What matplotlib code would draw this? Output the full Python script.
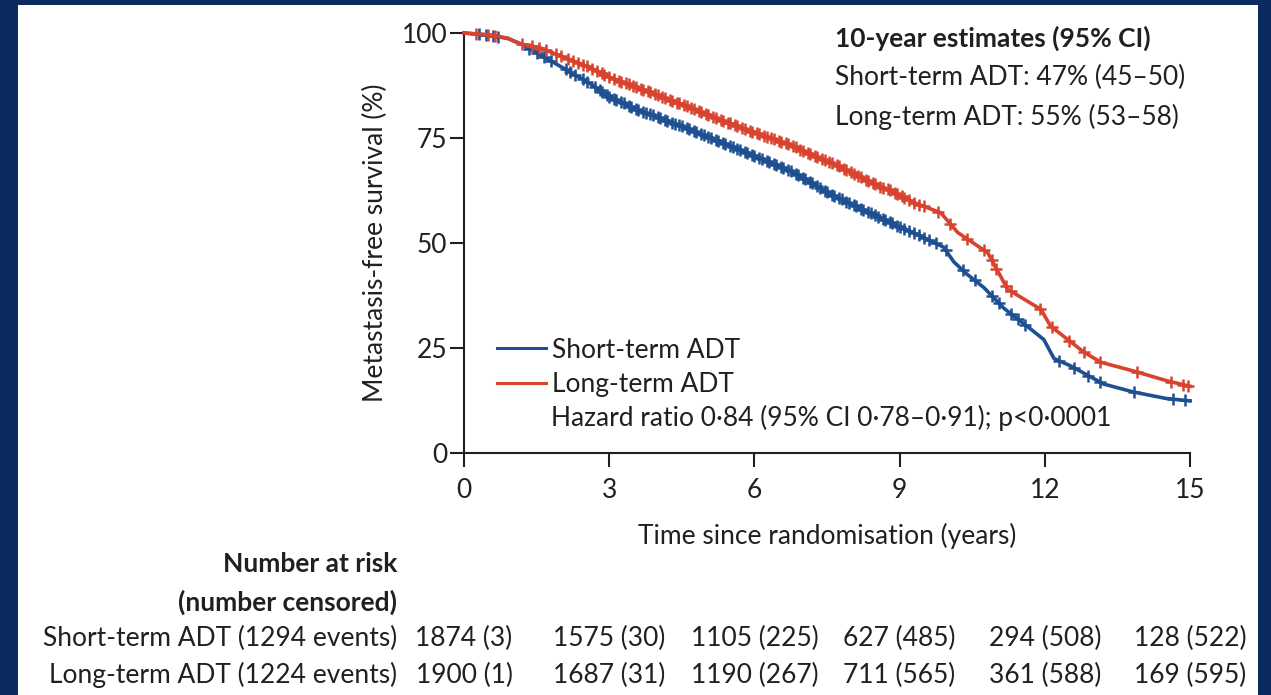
# Metastasis-free survival, short-term vs long-term ADT, with number-at-risk table
import numpy as np
import matplotlib.pyplot as plt
from matplotlib.patches import Rectangle
from matplotlib.lines import Line2D
from matplotlib.transforms import blended_transform_factory

plt.rcParams['font.family'] = ['Lato', 'DejaVu Sans']

# Kaplan-Meier curves (years, % metastasis-free)
t_short = [0, 0.5, 0.9, 1.2, 1.57, 2.0, 2.6, 3.0, 3.64, 4.5, 5.71, 6.7, 7.6, 8.6,
           9.02, 9.37, 9.91, 10.12, 10.4, 10.74, 11.15, 11.71, 11.98, 12.19, 12.54,
           13.22, 13.84, 14.5, 15.0]
s_short = [100, 99.5, 98.7, 97.3, 94.8, 92.0, 88.0, 84.8, 81.5, 77.8, 72.2, 67.5, 61.5, 56.0,
           53.8, 52.0, 49.0, 45.5, 42.5, 39.4, 34.5, 29.5, 27.0, 22.5, 20.7,
           16.4, 14.5, 13.0, 12.4]

t_long = [0, 0.5, 0.9, 1.16, 1.57, 2.0, 2.6, 3.0, 3.64, 4.5, 5.71, 6.7, 7.7, 8.6,
          8.81, 9.3, 9.85, 10.2, 10.82, 11.09, 11.23, 11.92, 12.12, 12.81, 13.16,
          13.84, 14.55, 15.0]
s_long = [100, 99.6, 98.8, 97.4, 96.5, 94.5, 91.8, 89.5, 86.8, 83.0, 77.5, 73.5, 68.5, 63.4,
          62.5, 59.6, 57.2, 52.5, 47.7, 42.0, 39.0, 34.2, 30.2, 24.0, 21.6,
          19.5, 17.1, 15.9]

# censoring times (years)
cens_short = [0.3, 0.45, 0.6, 0.7, 1.35, 1.5, 1.65, 1.8, 2.1, 2.2, 2.3, 2.45, 2.55, 2.7,
              2.8, 2.85, 2.95, 3.0, 3.1, 3.15, 3.25, 3.3, 3.4, 3.45, 3.55, 3.6, 3.7,
              3.75, 3.85, 3.9, 4.0, 4.05, 4.15, 4.2, 4.3, 4.35, 4.45, 4.5, 4.6, 4.65,
              4.75, 4.8, 4.9, 4.95, 5.05, 5.1, 5.2, 5.25, 5.35, 5.4, 5.5, 5.55, 5.65,
              5.7, 5.8, 5.85, 5.95, 6.0, 6.1, 6.15, 6.25, 6.3, 6.4, 6.45, 6.55, 6.6,
              6.7, 6.75, 6.85, 6.9, 7.0, 7.05, 7.15, 7.2, 7.3, 7.35, 7.45, 7.5, 7.6,
              7.65, 7.75, 7.8, 7.9, 7.95, 8.05, 8.1, 8.2, 8.25, 8.35, 8.4, 8.5, 8.55,
              8.65, 8.7, 8.8, 8.85, 8.95, 9.0, 9.1, 9.2, 9.3, 9.4, 9.5, 9.6, 9.75,
              9.95, 10.3, 10.55, 10.9, 11.05, 11.3, 11.45, 11.6, 12.3, 12.6, 12.9,
              13.15, 13.85, 14.65, 14.9]
cens_long = [0.25, 0.5, 0.65, 1.2, 1.4, 1.55, 1.7, 1.9, 2.0, 2.15, 2.25, 2.35, 2.45,
             2.55, 2.65, 2.75, 2.85, 2.9, 3.0, 3.1, 3.2, 3.25, 3.35, 3.4, 3.5, 3.55,
             3.65, 3.7, 3.8, 3.85, 3.95, 4.0, 4.1, 4.15, 4.25, 4.3, 4.4, 4.45, 4.55,
             4.6, 4.7, 4.75, 4.85, 4.9, 5.0, 5.05, 5.15, 5.2, 5.3, 5.35, 5.45, 5.5,
             5.6, 5.65, 5.75, 5.8, 5.9, 5.95, 6.05, 6.1, 6.2, 6.25, 6.35, 6.4, 6.5,
             6.55, 6.65, 6.7, 6.8, 6.85, 6.95, 7.0, 7.1, 7.15, 7.25, 7.3, 7.4, 7.45,
             7.55, 7.6, 7.7, 7.75, 7.85, 7.9, 8.0, 8.05, 8.15, 8.2, 8.3, 8.35, 8.45,
             8.5, 8.6, 8.65, 8.75, 8.8, 8.9, 8.95, 9.05, 9.1, 9.2, 9.3, 9.4, 9.5,
             9.8, 10.05, 10.4, 10.75, 10.9, 11.0, 11.2, 11.3, 11.9, 12.15, 12.5,
             12.8, 13.15, 13.9, 14.6, 14.85, 14.95]

# number at risk (number censored)
risk_years = [0, 3, 6, 9, 12, 15]
risk_short = ["1874 (3)", "1575 (30)", "1105 (225)", "627 (485)", "294 (508)", "128 (522)"]
risk_long = ["1900 (1)", "1687 (31)", "1190 (267)", "711 (565)", "361 (588)", "169 (595)"]

blue = '#1d4f91'
red = '#d8432f'
navy = '#0b2b5f'
ink = '#231f20'
fs = 19

W, H = 1271, 695
fig = plt.figure(figsize=(W / 100, H / 100), dpi=100, facecolor=navy)
fig.patches.append(Rectangle((17.5 / W, 0), (1258 - 17.5) / W, 1 - 5 / H,
                             transform=fig.transFigure, facecolor='white',
                             edgecolor='none', zorder=-5))

ax = fig.add_axes([464 / W, 1 - 453 / H, (1190 - 464) / W, (453 - 33) / H])
ax.set_zorder(2)
ax.set_facecolor('none')

for t, s, c, cens in [(t_short, s_short, blue, cens_short), (t_long, s_long, red, cens_long)]:
    ax.plot(t, s, color=c, lw=2.6, clip_on=False, zorder=3)
    cy = np.interp(cens, t, s)
    ax.plot(cens, cy, ls='none', marker='+', ms=8.5, mew=1.8, color=c,
            clip_on=False, zorder=3)

ax.set_xlim(0, 15)
ax.set_ylim(0, 100)
ax.set_xticks(risk_years)
ax.set_yticks([0, 25, 50, 75, 100])
for side in ['top', 'right']:
    ax.spines[side].set_visible(False)
for side in ['left', 'bottom']:
    ax.spines[side].set_color(ink)
    ax.spines[side].set_linewidth(1.5)
ax.tick_params(axis='y', length=10, width=1.5, color=ink, pad=2, labelsize=fs,
               labelcolor=ink)
ax.tick_params(axis='x', length=10, width=1.5, color=ink, pad=8, labelsize=fs,
               labelcolor=ink)
ax.set_ylabel('Metastasis-free survival (%)', fontsize=fs, color=ink, labelpad=10)
ax.set_xlabel('Time since randomisation (years)', fontsize=fs, color=ink, labelpad=14)

# legend and annotations
handles = [Line2D([], [], color=blue, lw=2.2), Line2D([], [], color=red, lw=2.2)]
leg = ax.legend(handles, ['Short-term ADT', 'Long-term ADT'], loc='upper left',
                bbox_to_anchor=(0.0455, 0.275), frameon=False, fontsize=fs,
                handlelength=1.85, handletextpad=0.25, labelspacing=0.35,
                borderpad=0, borderaxespad=0)
for txt in leg.get_texts():
    txt.set_color(ink)
ax.text(1.80, 8.3, 'Hazard ratio 0·84 (95% CI 0·78–0·91); p<0·0001', fontsize=fs,
        color=ink, va='center')

ax.text(7.67, 98.8, '10-year estimates (95% CI)', fontsize=fs, fontweight='bold',
        color=ink, va='center')
ax.text(7.67, 89.3, 'Short-term ADT: 47% (45–50)', fontsize=fs, color=ink, va='center')
ax.text(7.67, 80.0, 'Long-term ADT: 55% (53–58)', fontsize=fs, color=ink, va='center')

# number-at-risk table
fig.text(397 / W, 1 - 564 / H, 'Number at risk', fontsize=fs, fontweight='bold',
         color=ink, ha='right', va='center')
fig.text(397 / W, 1 - 602 / H, '(number censored)', fontsize=fs, fontweight='bold',
         color=ink, ha='right', va='center')
fig.text(397 / W, 1 - 638 / H, 'Short-term ADT (1294 events)', fontsize=fs,
         color=ink, ha='right', va='center')
fig.text(397 / W, 1 - 675 / H, 'Long-term ADT (1224 events)', fontsize=fs,
         color=ink, ha='right', va='center')
tr = blended_transform_factory(ax.transData, fig.transFigure)
for yr, a, b in zip(risk_years, risk_short, risk_long):
    ax.text(yr, 1 - 638 / H, a, transform=tr, fontsize=fs, color=ink,
            ha='center', va='center', clip_on=False)
    ax.text(yr, 1 - 675 / H, b, transform=tr, fontsize=fs, color=ink,
            ha='center', va='center', clip_on=False)

fig.savefig('out.png', dpi=100, facecolor=navy)
